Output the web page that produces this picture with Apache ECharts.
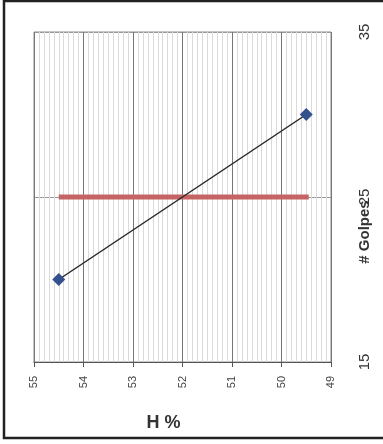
<!DOCTYPE html>
<html>
<head>
<meta charset="utf-8">
<script src="https://cdn.jsdelivr.net/npm/echarts@6/dist/echarts.min.js"></script>
<style>
  html, body { margin: 0; padding: 0; background: #fff; }
  #chart { width: 383px; height: 444px; }
</style>
</head>
<body>
<div id="chart"></div>
<script>
// puntos medidos (H %, # golpes)
var golpesPts = [[54.5, 20], [49.5, 30]];
// linea de 25 golpes
var linea25 = [[54.5, 25], [49.45, 25]];
var xMin = 49, xMax = 55;
var yMin = 15, yMax = 35;

var myChart = echarts.init(document.getElementById('chart'));

var option = {
    animation: false,
    backgroundColor: '#fff',
    grid: {
        left: 34, right: 52, top: 32, bottom: 82,
        outerBoundsMode: 'none',
        show: true,
        borderColor: '#8a8a8a',
        borderWidth: 1
    },
    graphic: [{
        type: 'rect',
        shape: { x: 4, y: 1, width: 400, height: 437 },
        style: { fill: 'none', stroke: '#222', lineWidth: 2.5 },
        silent: true
    }],
    xAxis: {
        type: 'value',
        inverse: true,
        min: xMin,
        max: xMax,
        interval: 1,
        name: 'H %',
        nameLocation: 'middle',
        nameGap: 52,
        nameMoveOverlap: false,
        nameTextStyle: {
            fontFamily: 'Liberation Sans',
            fontWeight: 'bold',
            fontSize: 18,
            color: '#333',
            padding: [0, 38, 0, 0]
        },
        axisLine: { lineStyle: { color: '#555', width: 1 } },
        axisTick: { show: true, length: 5, lineStyle: { color: '#555' } },
        axisLabel: {
            rotate: 90,
            margin: 14,
            fontFamily: 'Liberation Sans',
            fontSize: 11,
            color: '#444'
        },
        splitLine: { show: true, lineStyle: { color: '#777', width: 1 } },
        minorTick: { show: false, splitNumber: 10 },
        minorSplitLine: { show: true, lineStyle: { color: '#dadada', width: 1 } }
    },
    yAxis: {
        type: 'value',
        position: 'right',
        min: yMin,
        max: yMax,
        interval: 10,
        name: '# Golpes',
        nameLocation: 'middle',
        nameRotate: 90,
        nameGap: 26,
        nameMoveOverlap: false,
        nameTextStyle: {
            fontFamily: 'Liberation Sans',
            fontWeight: 'bold',
            fontSize: 15,
            color: '#333',
            padding: [0, 70, 0, 0]
        },
        axisLine: { show: false },
        axisTick: { show: false },
        axisLabel: {
            rotate: 90,
            margin: 26,
            fontFamily: 'Liberation Sans',
            fontSize: 15,
            color: '#333'
        },
        splitLine: { show: true, lineStyle: { color: '#999', width: 1 } }
    },
    series: [
        {
            type: 'line',
            data: linea25,
            symbol: 'none',
            lineStyle: { color: '#c46464', width: 5 },
            z: 2
        },
        {
            type: 'line',
            data: golpesPts,
            symbol: 'diamond',
            symbolSize: 13,
            itemStyle: { color: '#34508f' },
            lineStyle: { color: '#2a2a2a', width: 1.5 },
            z: 3
        }
    ]
};
myChart.setOption(option);
</script>
</body>
</html>
